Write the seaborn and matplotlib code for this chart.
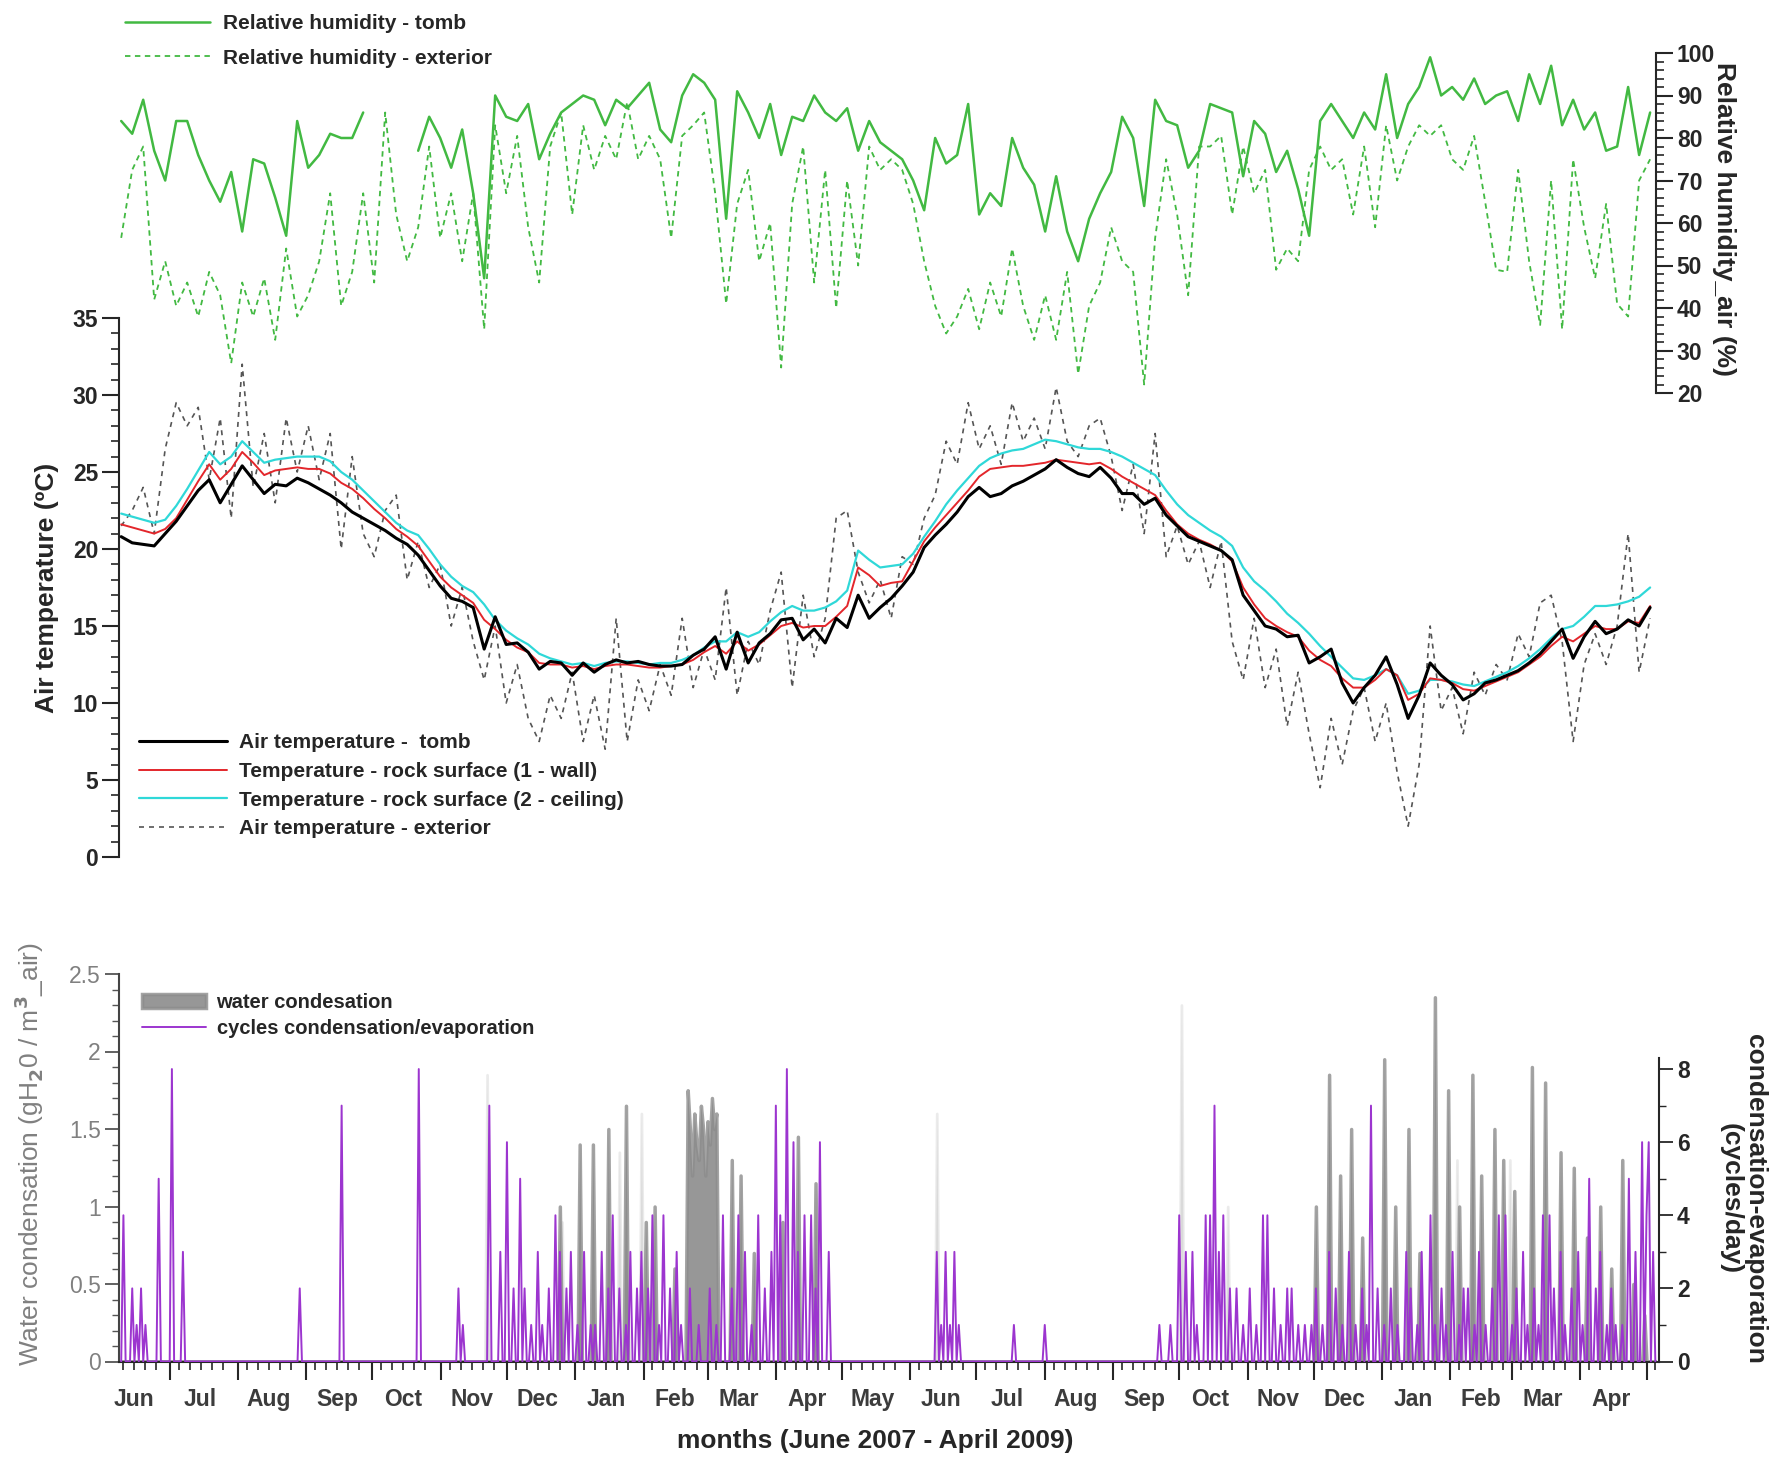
import numpy as np
import pandas as pd
import matplotlib
matplotlib.use("Agg")
import matplotlib.pyplot as plt
import matplotlib.dates as mdates
from matplotlib.ticker import MultipleLocator, FixedLocator, FuncFormatter
import seaborn as sns

# readings every 5 days starting 9 June 2007
start = pd.Timestamp("2007-06-09")
step = 5

t_tomb = [20.8, 20.4, 20.3, 20.2, 21.0, 21.8, 22.8, 23.8, 24.5, 23.0,
          24.2, 25.4, 24.5, 23.6, 24.2, 24.1, 24.6, 24.3, 23.9, 23.5,
          23.0, 22.4, 22.0, 21.6, 21.2, 20.7, 20.3, 19.6, 18.6, 17.6,
          16.8, 16.6, 16.2, 13.5, 15.6, 13.8, 13.9, 13.3, 12.2, 12.7,
          12.6, 11.8, 12.6, 12.0, 12.5, 12.8, 12.6, 12.7, 12.5, 12.4,
          12.4, 12.5, 13.1, 13.5, 14.3, 12.2, 14.6, 12.6, 13.9, 14.5,
          15.4, 15.5, 14.1, 14.8, 13.9, 15.5, 14.9, 17.0, 15.5, 16.2,
          16.8, 17.6, 18.5, 20.1, 20.9, 21.6, 22.4, 23.4, 24.0, 23.4,
          23.6, 24.1, 24.4, 24.8, 25.2, 25.8, 25.3, 24.9, 24.7, 25.3,
          24.6, 23.6, 23.6, 22.9, 23.3, 22.2, 21.5, 20.8, 20.5, 20.2,
          19.9, 19.3, 17.0, 16.0, 15.0, 14.8, 14.3, 14.4, 12.6, 13.0,
          13.5, 11.3, 10.0, 11.0, 11.8, 13.0, 11.2, 9.0, 10.5, 12.6,
          11.8, 11.2, 10.2, 10.6, 11.3, 11.5, 11.8, 12.1, 12.6, 13.2,
          14.0, 14.8, 12.9, 14.3, 15.3, 14.5, 14.8, 15.4, 15.0, 16.2]

t_wall = [21.6, 21.4, 21.2, 21.0, 21.3, 22.0, 23.2, 24.4, 25.5, 24.5,
          25.2, 26.3, 25.6, 24.8, 25.1, 25.2, 25.3, 25.2, 25.2, 24.9,
          24.3, 23.9, 23.3, 22.6, 22.0, 21.3, 20.8, 20.2, 19.2, 18.2,
          17.5, 17.0, 16.5, 15.4, 14.8, 14.1, 13.6, 13.3, 12.6, 12.5,
          12.5, 12.3, 12.4, 12.2, 12.4, 12.5, 12.5, 12.4, 12.3, 12.3,
          12.4, 12.5, 12.8, 13.3, 13.7, 13.2, 14.0, 13.4, 13.8, 14.4,
          15.0, 15.2, 14.9, 15.0, 15.0, 15.6, 16.3, 18.8, 18.3, 17.6,
          17.8, 17.9, 19.2, 20.5, 21.4, 22.2, 23.0, 23.8, 24.7, 25.2,
          25.3, 25.4, 25.4, 25.5, 25.6, 25.8, 25.7, 25.6, 25.5, 25.6,
          25.2, 24.7, 24.3, 23.9, 23.5, 22.5, 21.6, 21.0, 20.6, 20.3,
          19.9, 19.2, 17.5, 16.4, 15.5, 15.0, 14.6, 14.3, 13.4, 12.8,
          12.4, 11.6, 11.0, 11.0, 11.5, 12.2, 11.8, 10.2, 10.6, 11.6,
          11.5, 11.3, 10.9, 10.8, 11.1, 11.4, 11.7, 12.0, 12.5, 13.0,
          13.7, 14.3, 14.0, 14.5, 15.0, 14.8, 14.8, 15.3, 15.2, 16.3]

t_ceiling = [22.3, 22.1, 21.9, 21.7, 21.9, 22.8, 23.9, 25.1, 26.3, 25.5,
             26.0, 27.0, 26.3, 25.6, 25.8, 25.9, 26.0, 26.0, 26.0, 25.7,
             25.0, 24.5, 23.8, 23.1, 22.4, 21.7, 21.2, 20.9, 20.0, 19.0,
             18.2, 17.6, 17.2, 16.4, 15.4, 14.7, 14.2, 13.8, 13.2, 12.9,
             12.7, 12.5, 12.6, 12.4, 12.6, 12.7, 12.7, 12.6, 12.5, 12.6,
             12.6, 12.8, 13.1, 13.6, 14.0, 14.0, 14.6, 14.3, 14.6, 15.3,
             15.9, 16.3, 16.0, 16.0, 16.2, 16.6, 17.3, 19.9, 19.3, 18.8,
             18.9, 19.0, 19.7, 20.8, 21.8, 22.9, 23.8, 24.6, 25.4, 25.9,
             26.2, 26.4, 26.5, 26.8, 27.1, 27.0, 26.8, 26.6, 26.5, 26.5,
             26.3, 26.0, 25.6, 25.2, 24.8, 23.8, 22.9, 22.2, 21.7, 21.2,
             20.8, 20.2, 18.8, 17.9, 17.3, 16.6, 15.8, 15.2, 14.5, 13.7,
             13.0, 12.3, 11.6, 11.5, 11.8, 12.2, 11.8, 10.6, 10.8, 11.5,
             11.5, 11.4, 11.2, 11.1, 11.4, 11.7, 12.0, 12.4, 12.9, 13.5,
             14.2, 14.8, 15.0, 15.6, 16.3, 16.3, 16.4, 16.6, 16.9, 17.5]

t_ext = [21.5, 22.5, 24.0, 21.0, 26.5, 29.5, 28.0, 29.2, 24.5, 28.5,
         22.0, 32.0, 24.0, 27.5, 23.0, 28.5, 25.0, 28.0, 24.5, 27.5,
         20.0, 26.0, 21.0, 19.5, 22.5, 23.5, 18.0, 20.5, 17.5, 19.0,
         15.0, 17.5, 14.0, 11.5, 15.0, 10.0, 12.5, 9.0, 7.5, 10.5,
         9.0, 12.0, 7.5, 10.5, 7.0, 15.5, 7.5, 11.5, 9.5, 12.5,
         10.5, 15.5, 11.0, 13.5, 11.5, 17.5, 10.5, 14.0, 12.5, 16.0,
         18.5, 11.0, 17.0, 13.0, 15.5, 22.0, 22.5, 18.5, 16.5, 18.0,
         15.5, 19.5, 19.0, 22.0, 23.5, 27.0, 25.5, 29.5, 26.5, 28.0,
         25.5, 29.5, 27.0, 28.5, 26.5, 30.5, 27.0, 26.0, 28.0, 28.5,
         26.0, 22.5, 25.5, 21.0, 27.5, 19.5, 21.5, 19.0, 20.5, 17.5,
         20.5, 14.0, 11.5, 15.5, 11.0, 13.5, 8.5, 12.0, 8.0, 4.5,
         9.0, 6.0, 9.5, 11.0, 7.5, 10.0, 5.5, 2.0, 6.0, 15.0,
         9.5, 11.0, 8.0, 12.0, 10.5, 12.5, 11.5, 14.5, 13.0, 16.5,
         17.0, 14.0, 7.5, 12.5, 14.5, 12.5, 15.0, 21.0, 12.0, 15.5]

rh_tomb = [84, 81, 89, 77, 70, 84, 84, 76, 70, 65,
           72, 58, 75, 74, 66, 57, 84, 73, 76, 81,
           80, 80, 86, np.nan, np.nan, np.nan, np.nan, 77, 85, 80,
           73, 82, 67, 47, 90, 85, 84, 88, 75, 81,
           86, 88, 90, 89, 83, 89, 87, 90, 93, 82,
           79, 90, 95, 93, 89, 61, 91, 86, 80, 88,
           76, 85, 84, 90, 86, 84, 87, 77, 84, 79,
           77, 75, 70, 63, 80, 74, 76, 88, 62, 67,
           64, 80, 73, 69, 58, 71, 58, 51, 61, 67,
           72, 85, 80, 64, 89, 84, 83, 73, 77, 88,
           87, 86, 71, 84, 81, 72, 77, 68, 57, 84,
           88, 84, 80, 86, 82, 95, 80, 88, 92, 99,
           90, 92, 89, 94, 88, 90, 91, 84, 95, 88,
           97, 83, 89, 82, 86, 77, 78, 92, 76, 86]

rh_ext = [56.5, 72.5, 78, 42, 51, 40.5, 46, 38, 48.5, 43,
          27, 46, 38, 47, 32.5, 54, 38, 43, 51, 67,
          40.5, 48.5, 67, 46, 86, 62, 51, 59, 78, 56.5,
          67, 51, 67, 35, 83, 67, 80.5, 59, 46, 78,
          86, 62, 83, 72.5, 80.5, 75, 88.5, 75, 80.5, 75,
          56.5, 80.5, 83, 86, 67, 41, 64.5, 72.5, 51, 60,
          26, 64.5, 78, 46, 72.5, 40, 70, 50, 78, 72.5,
          75, 72.5, 64.5, 51, 40.5, 34, 38, 44.5, 35, 46,
          38, 54, 40.5, 32.5, 43, 32.5, 48.5, 24.5, 40.5, 46,
          59, 51, 48.5, 22, 56.5, 75, 62, 43, 78, 78,
          80.5, 62, 78, 67, 72.5, 49, 54, 51, 72.5, 78,
          72.5, 75, 62, 78, 59, 83, 70, 78, 83, 80.5,
          83, 75, 72.5, 80.5, 65, 49, 48.5, 72.5, 51, 36,
          70, 35, 75, 59, 47, 64.5, 41, 38, 70, 75]

# daily events (day number from 9 June 2007)
cyc_day = [1, 5, 7, 9, 11, 17, 23, 28, 81, 100,
           135, 153, 155, 167, 172, 175, 178, 181, 183, 186,
           189, 191, 194, 197, 199, 202, 204, 207, 210, 213,
           215, 218, 221, 223, 226, 229, 231, 234, 236, 239,
           241, 244, 246, 249, 252, 254, 258, 262, 267, 270,
           273, 277, 280, 283, 286, 289, 292, 295, 297, 299,
           302, 305, 307, 310, 313, 315, 317, 321, 370, 372,
           374, 376, 378, 380, 405, 419, 471, 476, 480, 483,
           486, 488, 492, 494, 496, 498, 500, 503, 506, 509,
           512, 515, 518, 520, 523, 526, 529, 531, 534, 537,
           540, 542, 545, 548, 551, 554, 557, 560, 563, 565,
           567, 570, 573, 576, 579, 583, 585, 588, 590, 594,
           596, 599, 601, 604, 607, 609, 611, 614, 616, 619,
           622, 625, 628, 631, 633, 636, 638, 641, 643, 645,
           648, 650, 653, 655, 658, 661, 663, 666, 669, 671,
           674, 676, 678, 681, 684, 687, 690, 692, 693, 695]
cyc_val = [4, 2, 1, 2, 1, 5, 8, 3, 2, 7,
           8, 2, 1, 7, 3, 6, 2, 5, 2, 1,
           3, 1, 2, 4, 3, 2, 3, 1, 3, 1,
           1, 3, 2, 4, 2, 1, 3, 2, 3, 2,
           4, 1, 4, 2, 3, 1, 2, 1, 2, 1,
           4, 2, 4, 3, 1, 4, 2, 3, 7, 4,
           8, 6, 3, 4, 4, 2, 6, 3, 3, 1,
           3, 1, 3, 1, 1, 1, 1, 1, 4, 3,
           3, 1, 4, 4, 7, 3, 4, 2, 2, 1,
           2, 1, 4, 4, 2, 1, 2, 2, 1, 1,
           1, 2, 1, 3, 2, 1, 3, 1, 2, 1,
           7, 2, 1, 2, 1, 3, 2, 1, 3, 4,
           1, 2, 1, 3, 1, 2, 2, 1, 3, 1,
           2, 4, 4, 1, 2, 3, 1, 2, 1, 4,
           4, 2, 3, 1, 2, 3, 1, 5, 2, 3,
           1, 2, 1, 1, 5, 3, 6, 4, 6, 3]

cond_day = [199, 208, 214, 221, 229, 238, 242, 251, 257, 258,
            259, 260, 261, 262, 263, 264, 265, 266, 267, 268,
            269, 270, 277, 281, 287, 300, 307, 315, 542, 548,
            553, 558, 563, 573, 578, 584, 589, 596, 602, 607,
            613, 617, 623, 627, 632, 640, 646, 653, 659, 665,
            671, 676, 681, 686, 691]
cond_val = [1.0, 1.4, 1.4, 1.5, 1.65, 0.9, 1.0, 0.6, 1.75, 1.5,
            1.2, 1.6, 1.4, 1.3, 1.65, 1.5, 1.2, 1.55, 1.4, 1.7,
            1.5, 1.6, 1.3, 1.2, 0.7, 0.9, 1.45, 1.15, 1.0, 1.85,
            1.2, 1.5, 0.8, 1.95, 1.0, 1.5, 0.7, 2.35, 1.75, 1.0,
            1.85, 1.2, 1.5, 1.3, 1.1, 1.9, 1.8, 1.35, 1.25, 0.8,
            1.0, 0.6, 1.3, 0.5, 0.3]
cond_faint_day = [166, 200, 226, 236, 370, 481, 502, 606, 630]
cond_faint_val = [1.85, 0.9, 1.35, 1.6, 1.6, 2.3, 1.0, 1.3, 1.3]

n_days = 697

# ---- data frames
dates = start + pd.to_timedelta(np.arange(len(t_tomb)) * step, unit="D")
df = pd.DataFrame({"date": dates, "t_tomb": t_tomb, "t_wall": t_wall,
                   "t_ceiling": t_ceiling, "t_ext": t_ext,
                   "rh_tomb": rh_tomb, "rh_ext": rh_ext})

daily = pd.DataFrame({"date": start + pd.to_timedelta(np.arange(n_days), unit="D")})
cyc = np.zeros(n_days)
cyc[cyc_day] = cyc_val
cond = np.zeros(n_days)
cond[cond_day] = cond_val
cond_f = np.zeros(n_days)
cond_f[cond_faint_day] = cond_faint_val
daily["cycles"] = cyc
daily["cond"] = cond
daily["cond_faint"] = cond_f

# ---- style
sns.set_style("ticks")
plt.rcParams["font.family"] = ["Liberation Sans", "DejaVu Sans"]
plt.rcParams["font.weight"] = "bold"
plt.rcParams["axes.labelweight"] = "bold"
plt.rcParams["axes.linewidth"] = 1.5

green = "#42b942"
purple = "#9c35cf"
TICK = 16.5
LAB = 19

W, H = 1776, 1461
fig = plt.figure(figsize=(W / 100, H / 100), dpi=100)


def box(x0, x1, ytop, ybot):
    return [x0 / W, 1 - ybot / H, (x1 - x0) / W, (ybot - ytop) / H]


ax_t = fig.add_axes(box(119, 1656, 318, 857))
ax_rh = fig.add_axes(box(119, 1656, 53, 393))
ax_w = fig.add_axes(box(119, 1659, 974, 1361.5))
ax_c = ax_w.twinx()

x0 = pd.Timestamp("2007-06-08")
x1 = pd.Timestamp("2009-05-06 16:00")

# ---- temperature panel
sns.lineplot(data=df, x="date", y="t_tomb", ax=ax_t, color="black", lw=2.2,
             label="Air temperature -  tomb", zorder=5)
sns.lineplot(data=df, x="date", y="t_wall", ax=ax_t, color="#e3262b", lw=1.4,
             label="Temperature - rock surface (1 - wall)", zorder=4)
sns.lineplot(data=df, x="date", y="t_ceiling", ax=ax_t, color="#2fd8d8", lw=1.6,
             label="Temperature - rock surface (2 - ceiling)", zorder=3)
sns.lineplot(data=df, x="date", y="t_ext", ax=ax_t, color="#555555", lw=1.2,
             linestyle=(0, (3, 3)), label="Air temperature - exterior", zorder=2)

ax_t.set_xlim(x0, x1)
ax_t.set_ylim(0, 35)
ax_t.patch.set_alpha(0)
for s in ["top", "right", "bottom"]:
    ax_t.spines[s].set_visible(False)
ax_t.spines["left"].set_bounds(0, 35)
ax_t.yaxis.set_major_locator(MultipleLocator(5))
ax_t.yaxis.set_minor_locator(MultipleLocator(1))
ax_t.tick_params(axis="x", which="both", bottom=False, labelbottom=False)
ax_t.tick_params(axis="y", which="major", length=12, width=1.5, labelsize=TICK, pad=3)
ax_t.tick_params(axis="y", which="minor", length=6, width=1.2)
ax_t.set_xlabel("")
ax_t.set_ylabel("Air temperature (ºC)", fontsize=LAB, rotation=90, ha="center", va="center")
ax_t.yaxis.set_label_coords(-0.047, 0.5)
ax_t.legend(loc="upper left", bbox_to_anchor=(139 / W, 1 - 733 / H),
            bbox_transform=fig.transFigure, frameon=False, fontsize=15,
            handlelength=4.2, handletextpad=0.6, labelspacing=0.47,
            borderpad=0, borderaxespad=0)

# ---- relative humidity panel (gap in tomb record)
gap = df["rh_tomb"].isna()
first_gap = int(np.argmax(gap.values))
seg1 = df.iloc[:first_gap]
seg2 = df.iloc[first_gap:].dropna(subset=["rh_tomb"])
sns.lineplot(data=seg1, x="date", y="rh_tomb", ax=ax_rh, color=green, lw=1.8,
             label="Relative humidity - tomb", zorder=4)
sns.lineplot(data=seg2, x="date", y="rh_tomb", ax=ax_rh, color=green, lw=1.8,
             zorder=4)
sns.lineplot(data=df, x="date", y="rh_ext", ax=ax_rh, color=green, lw=1.3,
             linestyle=(0, (3, 2.5)), label="Relative humidity - exterior", zorder=3)

ax_rh.set_xlim(x0, x1)
ax_rh.set_ylim(20, 100)
ax_rh.patch.set_alpha(0)
for s in ["top", "left", "bottom"]:
    ax_rh.spines[s].set_visible(False)
ax_rh.spines["right"].set_visible(True)
ax_rh.spines["right"].set_bounds(20, 100)
ax_rh.yaxis.tick_right()
ax_rh.yaxis.set_major_locator(MultipleLocator(10))
ax_rh.yaxis.set_minor_locator(MultipleLocator(2))
ax_rh.tick_params(axis="x", which="both", bottom=False, labelbottom=False)
ax_rh.tick_params(axis="y", which="major", length=12, width=1.5, labelsize=TICK, pad=3)
ax_rh.tick_params(axis="y", which="minor", length=6, width=1.2)
ax_rh.set_xlabel("")
ax_rh.yaxis.set_label_position("right")
ax_rh.set_ylabel("Relative humidity_air (%)", fontsize=LAB, rotation=-90,
                 ha="center", va="center")
ax_rh.yaxis.set_label_coords(1.0443, 0.512)
for ln in ax_rh.get_lines():
    ln.set_clip_on(False)
ax_rh.legend(loc="upper left", bbox_to_anchor=(125 / W, 1 - 14 / H),
             bbox_transform=fig.transFigure, frameon=False, fontsize=15,
             handlelength=4.1, handletextpad=0.6, labelspacing=0.75,
             borderpad=0, borderaxespad=0)

# ---- condensation panel
ax_w.fill_between(daily["date"], 0, daily["cond_faint"], color="#b5b5b5",
                  alpha=0.35, lw=2, edgecolor="#c8c8c8")
fill = ax_w.fill_between(daily["date"], 0, daily["cond"], facecolor="#7d7d7d",
                         edgecolor="#8c8c8c", alpha=0.8, lw=2.5,
                         label="water condesation")
sns.lineplot(data=daily, x="date", y="cycles", ax=ax_c, color=purple,
             lw=1.4, label="cycles condensation/evaporation")

ax_w.set_xlim(x0, x1)
ax_w.set_ylim(0, 2.5)
ax_c.set_ylim(0, 2.5 * 4.24)
for s in ["top", "right"]:
    ax_w.spines[s].set_visible(False)
for s in ["top", "left", "bottom"]:
    ax_c.spines[s].set_visible(False)
ax_w.spines["left"].set_bounds(0, 2.5)
ax_w.spines["left"].set_color("#444444")
ax_c.spines["right"].set_bounds(0, 8.3)

ax_w.yaxis.set_major_locator(MultipleLocator(0.5))
ax_w.yaxis.set_minor_locator(MultipleLocator(0.1))
ax_w.yaxis.set_major_formatter(FuncFormatter(lambda v, p: f"{v:g}"))
ax_w.tick_params(axis="y", which="major", length=10, width=1.3, labelsize=TICK,
                 labelcolor="#808080", color="#555555", pad=3)
ax_w.tick_params(axis="y", which="minor", length=5, width=1.0, color="#555555")
for lab in ax_w.get_yticklabels():
    lab.set_fontweight("normal")

ax_c.yaxis.set_major_locator(FixedLocator([0, 2, 4, 6, 8]))
ax_c.yaxis.set_minor_locator(FixedLocator([1, 3, 5, 7]))
ax_c.yaxis.set_major_formatter(FuncFormatter(lambda v, p: f"{v:g}"))
ax_c.tick_params(axis="y", which="major", length=10, width=1.3, labelsize=TICK, pad=3)
ax_c.tick_params(axis="y", which="minor", length=5, width=1.0)

# month ticks: long ticks at month starts, labels mid-month
ax_w.xaxis.set_major_locator(mdates.MonthLocator())
ax_w.xaxis.set_major_formatter(FuncFormatter(lambda v, p: ""))
ax_w.xaxis.set_minor_locator(mdates.DayLocator(bymonthday=[5, 10, 15, 20, 25]))
ax_w.xaxis.set_minor_formatter(FuncFormatter(
    lambda v, p: mdates.num2date(v).strftime("%b") if mdates.num2date(v).day == 15 else ""))
ax_w.tick_params(axis="x", which="major", length=13, width=1.5, direction="out")
ax_w.tick_params(axis="x", which="minor", length=6, width=1.2, direction="out",
                 labelsize=TICK, labelcolor="#3c3c3c", pad=13)

ax_w.set_xlabel("months (June 2007 - April 2009)", fontsize=LAB, va="center")
ax_w.xaxis.set_label_coords(0.491, -0.205)
ax_w.set_ylabel("Water condensation (gH$_2$0 / m$^3$_air)", fontsize=LAB,
                color="#808080", fontweight="normal", rotation=90,
                ha="center", va="center")
ax_w.yaxis.set_label_coords(-0.0585, 0.535)
ax_c.set_xlabel("")
ax_c.set_ylabel("condensation-evaporation\n(cycles/day)", fontsize=LAB,
                rotation=-90, ha="center", va="center", linespacing=1.05)
ax_c.yaxis.set_label_coords(1.0545, 0.42)

handles = [fill] + ax_c.get_lines()[:1]
labels = ["water condesation", "cycles condensation/evaporation"]
if ax_c.get_legend() is not None:
    ax_c.get_legend().remove()
ax_c.legend(handles, labels, loc="upper left", bbox_to_anchor=(142 / W, 1 - 993 / H),
            bbox_transform=fig.transFigure, frameon=False, fontsize=14.5,
            handlelength=3.2, handletextpad=0.5, labelspacing=0.37,
            borderpad=0, borderaxespad=0)

fig.savefig("out.png", dpi=100)
